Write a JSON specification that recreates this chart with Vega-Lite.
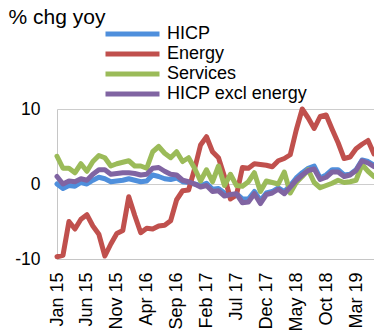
{
  "$schema": "https://vega.github.io/schema/vega-lite/v6.json",
  "width": 317,
  "height": 150,
  "autosize": "none",
  "padding": {"left": 57, "top": 109, "right": 0, "bottom": 75},
  "background": "white",
  "config": {
    "font": "Liberation Sans",
    "view": {"stroke": null},
    "axis": {"labelColor": "#000000", "labelFont": "Liberation Sans", "domainColor": "#c6c6c6", "gridColor": "#cdcdcd", "ticks": false},
    "legend": {"labelFont": "Liberation Sans"}
  },
  "data": {
    "values": [
      {"m": "Jan 15", "hicp": 0.0, "energy": -9.7, "services": 3.7, "core": 1.0},
      {"m": "Feb 15", "hicp": -0.6, "energy": -9.5, "services": 2.1, "core": 0.0},
      {"m": "Mar 15", "hicp": -0.2, "energy": -5.0, "services": 2.1, "core": 0.4},
      {"m": "Apr 15", "hicp": -0.3, "energy": -6.0, "services": 1.5, "core": 0.3},
      {"m": "May 15", "hicp": 0.2, "energy": -4.7, "services": 2.7, "core": 0.7},
      {"m": "Jun 15", "hicp": 0.0, "energy": -4.1, "services": 1.7, "core": 0.5},
      {"m": "Jul 15", "hicp": 0.5, "energy": -5.6, "services": 3.0, "core": 1.3},
      {"m": "Aug 15", "hicp": 0.9, "energy": -6.7, "services": 3.8, "core": 1.9},
      {"m": "Sep 15", "hicp": 0.7, "energy": -9.6, "services": 3.5, "core": 1.9},
      {"m": "Oct 15", "hicp": 0.3, "energy": -8.0, "services": 2.4, "core": 1.3},
      {"m": "Nov 15", "hicp": 0.4, "energy": -6.6, "services": 2.7, "core": 1.4},
      {"m": "Dec 15", "hicp": 0.5, "energy": -6.2, "services": 2.9, "core": 1.5},
      {"m": "Jan 16", "hicp": 0.7, "energy": -1.7, "services": 3.1, "core": 1.5},
      {"m": "Feb 16", "hicp": 0.5, "energy": -4.2, "services": 2.4, "core": 1.4},
      {"m": "Mar 16", "hicp": 0.3, "energy": -6.5, "services": 2.4, "core": 1.2},
      {"m": "Apr 16", "hicp": 0.4, "energy": -5.9, "services": 2.1, "core": 1.3},
      {"m": "May 16", "hicp": 1.2, "energy": -6.0, "services": 4.3, "core": 2.1},
      {"m": "Jun 16", "hicp": 1.0, "energy": -5.6, "services": 5.0, "core": 2.2},
      {"m": "Jul 16", "hicp": 0.7, "energy": -5.5, "services": 4.1, "core": 1.7},
      {"m": "Aug 16", "hicp": 0.6, "energy": -4.9, "services": 3.5, "core": 1.3},
      {"m": "Sep 16", "hicp": 0.8, "energy": -2.1, "services": 4.3, "core": 1.2},
      {"m": "Oct 16", "hicp": 0.3, "energy": -0.9, "services": 3.0, "core": 0.5},
      {"m": "Nov 16", "hicp": 0.2, "energy": -0.8, "services": 3.5, "core": 0.3},
      {"m": "Dec 16", "hicp": 0.0, "energy": 2.0, "services": 2.1, "core": 0.0},
      {"m": "Jan 17", "hicp": -0.2, "energy": 5.2, "services": 0.4, "core": -0.4},
      {"m": "Feb 17", "hicp": 0.1, "energy": 6.3, "services": 1.9, "core": -0.2},
      {"m": "Mar 17", "hicp": -0.7, "energy": 4.3, "services": 0.3, "core": -1.0},
      {"m": "Apr 17", "hicp": -0.6, "energy": 3.5, "services": 2.4, "core": -0.9},
      {"m": "May 17", "hicp": -1.2, "energy": 1.0, "services": -0.2, "core": -1.6},
      {"m": "Jun 17", "hicp": -1.6, "energy": -2.0, "services": 1.3, "core": -1.4},
      {"m": "Jul 17", "hicp": -1.3, "energy": -1.5, "services": -0.2, "core": -1.3},
      {"m": "Aug 17", "hicp": -2.0, "energy": 2.2, "services": -0.3, "core": -2.5},
      {"m": "Sep 17", "hicp": -2.0, "energy": 2.1, "services": 0.3, "core": -2.4},
      {"m": "Oct 17", "hicp": -1.0, "energy": 2.7, "services": 1.5, "core": -1.3},
      {"m": "Nov 17", "hicp": -2.2, "energy": 2.6, "services": -1.0, "core": -2.6},
      {"m": "Dec 17", "hicp": -1.2, "energy": 2.5, "services": 0.4, "core": -1.4},
      {"m": "Jan 18", "hicp": -1.0, "energy": 2.3, "services": 0.2, "core": -1.2},
      {"m": "Feb 18", "hicp": -0.5, "energy": 3.1, "services": 0.0, "core": -0.7},
      {"m": "Mar 18", "hicp": -1.0, "energy": 3.4, "services": 1.6, "core": -1.3},
      {"m": "Apr 18", "hicp": -0.2, "energy": 3.9, "services": -1.2, "core": -0.4},
      {"m": "May 18", "hicp": 0.8, "energy": 7.2, "services": 0.2, "core": 0.5},
      {"m": "Jun 18", "hicp": 1.5, "energy": 10.0, "services": 1.0, "core": 1.2},
      {"m": "Jul 18", "hicp": 2.1, "energy": 8.8, "services": 1.9, "core": 1.8},
      {"m": "Aug 18", "hicp": 2.4, "energy": 7.4, "services": 0.2, "core": 2.0},
      {"m": "Sep 18", "hicp": 0.8, "energy": 9.0, "services": -0.5, "core": 0.6},
      {"m": "Oct 18", "hicp": 1.2, "energy": 9.2, "services": -0.2, "core": 0.9},
      {"m": "Nov 18", "hicp": 1.9, "energy": 7.3, "services": 0.1, "core": 1.6},
      {"m": "Dec 18", "hicp": 1.9, "energy": 5.5, "services": 0.5, "core": 1.6},
      {"m": "Jan 19", "hicp": 1.2, "energy": 3.4, "services": 0.2, "core": 1.0},
      {"m": "Feb 19", "hicp": 1.3, "energy": 3.6, "services": 0.3, "core": 1.2},
      {"m": "Mar 19", "hicp": 1.9, "energy": 4.7, "services": 0.5, "core": 1.8},
      {"m": "Apr 19", "hicp": 3.2, "energy": 5.3, "services": 2.6, "core": 3.1},
      {"m": "May 19", "hicp": 3.0, "energy": 5.8, "services": 1.7, "core": 2.8},
      {"m": "Jun 19", "hicp": 2.5, "energy": 4.0, "services": 1.0, "core": 2.3}
    ]
  },
  "encoding": {
    "x": {
      "field": "m", "type": "ordinal", "sort": null,
      "scale": {"type": "point", "padding": 0},
      "axis": {
        "title": null, "grid": false, "domain": true, "ticks": false,
        "labelAngle": -90, "labelFontSize": 18, "labelPadding": 13,
        "values": ["Jan 15", "Jun 15", "Nov 15", "Apr 16", "Sep 16", "Feb 17", "Jul 17", "Dec 17", "May 18", "Oct 18", "Mar 19"]
      }
    }
  },
  "layer": [
    {
      "mark": {"type": "line", "strokeWidth": 5, "strokeJoin": "round", "strokeCap": "round"},
      "encoding": {
        "y": {"field": "hicp", "type": "quantitative", "title": "% chg yoy", "scale": {"domain": [-10, 10]},
          "axis": {"values": [-10, -5, 0, 5, 10], "labelExpr": "'' + datum.value", "grid": true, "domain": true, "ticks": false, "labelFontSize": 17.5, "labelPadding": 17, "titleAngle": 0, "titleX": -49, "titleY": -86, "titleAlign": "left", "titleBaseline": "alphabetic", "titleFontSize": 21, "titleFontWeight": "normal", "titleColor": "#000000", "titleFont": "Liberation Sans"}},
        "color": {"datum": "HICP", "type": "nominal",
          "scale": {"domain": ["HICP", "Energy", "Services", "HICP excl energy"], "range": ["#4f8fdc", "#c0504d", "#9bbb59", "#8064a2"]},
          "legend": {"title": null, "orient": "none", "legendX": 46, "legendY": -85, "symbolType": "stroke", "symbolSize": 2916, "symbolStrokeWidth": 5, "labelFontSize": 18, "labelOffset": 5, "rowPadding": 0, "clipHeight": 20, "padding": 0, "labelColor": "#000000", "labelLimit": 300}}
      }
    },
    {
      "mark": {"type": "line", "strokeWidth": 5, "strokeJoin": "round", "strokeCap": "round"},
      "encoding": {
        "y": {"field": "energy", "type": "quantitative", "title": "% chg yoy", "scale": {"domain": [-10, 10]}},
        "color": {"datum": "Energy", "type": "nominal"}
      }
    },
    {
      "mark": {"type": "line", "strokeWidth": 5, "strokeJoin": "round", "strokeCap": "round"},
      "encoding": {
        "y": {"field": "services", "type": "quantitative", "title": "% chg yoy", "scale": {"domain": [-10, 10]}},
        "color": {"datum": "Services", "type": "nominal"}
      }
    },
    {
      "mark": {"type": "line", "strokeWidth": 5, "strokeJoin": "round", "strokeCap": "round"},
      "encoding": {
        "y": {"field": "core", "type": "quantitative", "title": "% chg yoy", "scale": {"domain": [-10, 10]}},
        "color": {"datum": "HICP excl energy", "type": "nominal"}
      }
    }
  ]
}
